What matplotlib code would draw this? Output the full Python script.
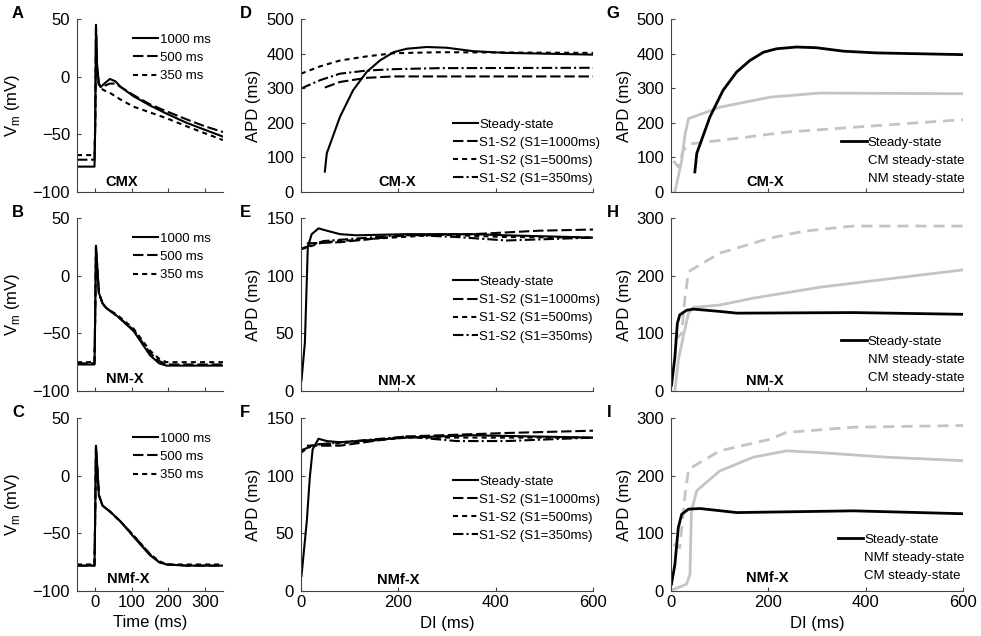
import matplotlib
matplotlib.use('Agg')
import matplotlib.pyplot as plt

plt.rcParams['font.family'] = ['Liberation Sans', 'DejaVu Sans']

# ---------------- data ----------------
# Panel A (CMX) action potentials
tA = [-50, -2, 0, 2, 5, 10, 15, 25, 40, 55, 70, 105, 150, 195, 250, 300, 350]
A_1000 = [-78, -78, -40, 45, 10, -6, -9, -6, -2, -4, -9, -17, -25, -32, -40, -46, -52]
A_500 = [-72, -72, -40, 42, 8, -6, -9, -8, -6, -6, -9, -16, -24, -30, -37, -43, -48]
A_350 = [-68, -68, -40, 40, 5, -8, -10, -12, -14, -17, -20, -26, -31, -36, -43, -49, -55]

# Panel B (NM-X)
tB = [-50, -2, 0, 2, 6, 10, 20, 30, 60, 105, 150, 175, 195, 250, 350]
B_1000 = [-77, -77, -30, 26, 5, -15, -24, -28, -35, -48, -69, -76, -78, -78, -78]
B_500 = [-76, -76, -30, 25, 5, -15, -24, -28, -35, -47, -67, -74, -77, -77, -77]
B_350 = [-75, -75, -30, 25, 5, -15, -24, -28, -34, -46, -65, -72, -75, -75, -75]

# Panel C (NMf-X)
tC = [-50, -2, 0, 2, 6, 10, 20, 40, 70, 105, 150, 175, 195, 250, 350]
C_1000 = [-78, -78, -30, 26, 5, -17, -26, -31, -40, -53, -69, -75, -77, -78, -78]
C_500 = [-78, -78, -30, 25, 5, -17, -26, -31, -40, -52, -68, -75, -77, -78, -78]
C_350 = [-77, -77, -30, 25, 5, -17, -26, -31, -40, -52, -68, -74, -77, -77, -77]

# Panel D (CM-X) restitution
D_ss_di = [49, 53, 80, 107, 135, 162, 190, 217, 258, 299, 354, 422, 600]
D_ss = [59, 112, 217, 294, 347, 380, 404, 414, 419, 417, 407, 402, 397]
D_1000_di = [49, 80, 135, 190, 600]
D_1000 = [302, 318, 330, 334, 334]
D_500_di = [0, 39, 80, 135, 190, 285, 600]
D_500 = [342, 363, 380, 392, 401, 404, 402]
D_350_di = [0, 39, 80, 135, 190, 285, 600]
D_350 = [299, 323, 342, 351, 355, 358, 359]

# Panel E (NM-X)
E_ss_di = [1, 8, 14, 22, 36, 53, 80, 114, 217, 354, 422, 600]
E_ss = [9, 42, 125, 136, 141, 139, 136, 135, 136, 136, 135, 133]
E_1000_di = [12, 80, 217, 354, 490, 600]
E_1000 = [128, 129, 135, 136, 139, 140]
E_500_di = [1, 46, 148, 285, 422, 600]
E_500 = [123, 129, 132, 135.5, 133.5, 133]
E_350_di = [1, 46, 217, 320, 422, 600]
E_350 = [123.5, 130, 135.5, 133.5, 130.5, 133]

# Panel F (NMf-X)
F_ss_di = [1, 12, 18, 24, 36, 53, 80, 217, 354, 600]
F_ss = [13, 61, 98, 123, 132, 130, 129, 133, 135, 133]
F_1000_di = [12, 80, 217, 422, 600]
F_1000 = [126, 126, 134, 137, 139]
F_500_di = [0, 25, 80, 217, 354, 600]
F_500 = [120, 127, 128, 133, 133, 133]
F_350_di = [0, 32, 217, 320, 422, 600]
F_350 = [122, 127, 134, 130, 130, 133]

# Panel G (CM-X vs single-cell steady-states)
G_ss_di = [49, 53, 80, 107, 135, 162, 190, 217, 258, 299, 354, 422, 600]
G_ss = [58, 112, 217, 294, 347, 380, 404, 414, 419, 417, 407, 402, 397]
G_cm_di = [8, 22, 29, 36, 100, 203, 306, 600]
G_cm = [0, 91, 168, 212, 245, 274, 286, 284]
G_nm_di = [5, 15, 25, 39, 100, 237, 374, 600]
G_nm = [90, 72, 120, 139, 149, 173, 187, 209]

# Panel H (NM-X)
H_ss_di = [1, 8, 13, 18, 32, 46, 100, 135, 374, 600]
H_ss = [10, 59, 117, 132, 140, 142, 138, 135, 136, 133]
H_nm_di = [8, 15, 25, 36, 46, 100, 169, 306, 443, 600]
H_nm = [1, 53, 94, 135, 145, 149, 161, 180, 194, 210]
H_cm_di = [8, 22, 29, 36, 100, 203, 272, 374, 600]
H_cm = [88, 100, 164, 207, 239, 265, 277, 286, 286]

# Panel I (NMf-X)
I_ss_di = [1, 8, 15, 22, 36, 60, 135, 374, 600]
I_ss = [12, 46, 110, 133, 142, 143, 136, 139, 134]
I_nmf_di = [5, 15, 32, 39, 42, 53, 100, 169, 237, 306, 443, 600]
I_nmf = [3, 6, 12, 29, 139, 174, 208, 232, 243, 240, 232, 226]
I_cm_di = [5, 18, 29, 36, 100, 203, 237, 374, 600]
I_cm = [81, 75, 168, 211, 243, 263, 275, 284, 287]

ap_labels = ['1000 ms', '500 ms', '350 ms']
rest_labels = ['Steady-state', 'S1-S2 (S1=1000ms)', 'S1-S2 (S1=500ms)', 'S1-S2 (S1=350ms)']

# ---------------- layout ----------------
W, H = 981, 636
fig = plt.figure(figsize=(W / 100, H / 100), dpi=100)

cols = [(77, 146), (301, 292), (671, 292)]
rows = [(19, 173), (218, 173), (418, 173)]


def make_ax(c, r):
    l, w = cols[c]
    t, h = rows[r]
    ax = fig.add_axes([l / W, 1 - (t + h) / H, w / W, h / H])
    for s in ['top', 'right']:
        ax.spines[s].set_visible(False)
    for s in ['left', 'bottom']:
        ax.spines[s].set_color('#444444')
        ax.spines[s].set_linewidth(0.8)
    ax.tick_params(direction='in', length=3, width=0.8, colors='#444444',
                   labelcolor='black', labelsize=12, pad=5)
    ax.tick_params(axis='x', pad=3)
    return ax


K = 'black'
GR = '#c4c4c4'
LW = 1.5
ls_long = (0, (5, 1.8))
ls_short = (0, (2.4, 2.0))
ls_dd = (0, (5, 1.5, 1, 1.5))

FS_LEG = 9.5
LSP = 0.45


def legend(ax, loc, anchor):
    lg = ax.legend(loc=loc, bbox_to_anchor=anchor, frameon=False, fontsize=FS_LEG,
                   handlelength=1.9, handletextpad=0.1, labelspacing=LSP,
                   borderpad=0, borderaxespad=0)
    return lg


# Column 1: action potentials
ap_sets = [(tA, A_1000, A_500, A_350, 'CMX', 73, -91, 'A'),
           (tB, B_1000, B_500, B_350, 'NM-X', 81, -90, 'B'),
           (tC, C_1000, C_500, C_350, 'NMf-X', 90, -90, 'C')]
for r, (t, v1, v2, v3, name, tx, ty, letter) in enumerate(ap_sets):
    ax = make_ax(0, r)
    ax.plot(t, v1, color=K, lw=LW, ls='-', label=ap_labels[0])
    ax.plot(t, v2, color=K, lw=LW, ls=ls_long, label=ap_labels[1])
    ax.plot(t, v3, color=K, lw=LW, ls=ls_short, label=ap_labels[2])
    ax.set_xlim(-50, 350)
    ax.set_ylim(-100, 50)
    ax.set_yticks([-100, -50, 0, 50])
    ax.set_xticks([0, 100, 200, 300])
    if r < 2:
        ax.set_xticklabels([])
    else:
        ax.set_xlabel('Time (ms)', fontsize=12, va='center')
        ax.xaxis.set_label_coords(0.5, -0.18)
    ax.set_ylabel('V$_\\mathregular{m}$ (mV)', fontsize=12, va='center')
    ax.yaxis.set_label_coords(-0.445, 0.5)
    ax.text(tx, ty, name, ha='center', va='center', fontsize=10.5, fontweight='bold')
    legend(ax, 'upper right', (0.915, 0.915))
    ax.text(-0.445, 1.03, letter, transform=ax.transAxes, fontsize=12,
            fontweight='bold', ha='left', va='center')

# Column 2: S1-S2 restitution
rest_sets = [
    (D_ss_di, D_ss, D_1000_di, D_1000, D_500_di, D_500, D_350_di, D_350,
     'CM-X', 197, 29, 500, [0, 100, 200, 300, 400, 500], 'D', 0.04),
    (E_ss_di, E_ss, E_1000_di, E_1000, E_500_di, E_500, E_350_di, E_350,
     'NM-X', 197, 8.7, 150, [0, 50, 100, 150], 'E', 0.28),
    (F_ss_di, F_ss, F_1000_di, F_1000, F_500_di, F_500, F_350_di, F_350,
     'NMf-X', 199, 9.5, 150, [0, 50, 100, 150], 'F', 0.283),
]
for r, (sx, sy, x1, y1, x2, y2, x3, y3, name, tx, ty, ymax, yt, letter, lb) in enumerate(rest_sets):
    ax = make_ax(1, r)
    ax.plot(sx, sy, color=K, lw=LW, ls='-', label=rest_labels[0])
    ax.plot(x1, y1, color=K, lw=LW, ls=ls_long, label=rest_labels[1])
    ax.plot(x2, y2, color=K, lw=LW, ls=ls_short, label=rest_labels[2])
    ax.plot(x3, y3, color=K, lw=LW, ls=ls_dd, label=rest_labels[3])
    ax.set_xlim(0, 600)
    ax.set_ylim(0, ymax)
    ax.set_yticks(yt)
    ax.set_xticks([0, 200, 400, 600])
    if r < 2:
        ax.set_xticklabels([])
    else:
        ax.set_xlabel('DI (ms)', fontsize=12, va='center')
        ax.xaxis.set_label_coords(0.5, -0.19)
    ax.set_ylabel('APD (ms)', fontsize=12, va='center')
    ax.yaxis.set_label_coords(-0.164, 0.5)
    ax.text(tx, ty, name, ha='center', va='center', fontsize=10.5, fontweight='bold')
    legend(ax, 'lower right', (1.025, lb))
    ax.text(-0.21, 1.03, letter, transform=ax.transAxes, fontsize=12,
            fontweight='bold', ha='left', va='center')

# Column 3: comparison with single-cell steady-states
cmp_sets = [
    (G_ss_di, G_ss, G_cm_di, G_cm, G_nm_di, G_nm,
     ['Steady-state', 'CM steady-state', 'NM steady-state'],
     'CM-X', 193, 29, 500, [0, 100, 200, 300, 400, 500], 'G', 0.04),
    (H_ss_di, H_ss, H_nm_di, H_nm, H_cm_di, H_cm,
     ['Steady-state', 'NM steady-state', 'CM steady-state'],
     'NM-X', 193, 17, 300, [0, 100, 200, 300], 'H', 0.04),
    (I_ss_di, I_ss, I_nmf_di, I_nmf, I_cm_di, I_cm,
     ['Steady-state', 'NMf steady-state', 'CM steady-state'],
     'NMf-X', 197, 22.5, 300, [0, 100, 200, 300], 'I', 0.05),
]
for r, (sx, sy, gx, gy, dx, dy, labs, name, tx, ty, ymax, yt, letter, lb) in enumerate(cmp_sets):
    ax = make_ax(2, r)
    ax.plot(gx, gy, color=GR, lw=2.0, ls='-', label=labs[1])
    ax.plot(dx, dy, color=GR, lw=2.0, ls=(0, (4, 2.5)), label=labs[2])
    ax.plot(sx, sy, color=K, lw=2.0, ls='-', label=labs[0])
    ax.set_xlim(0, 600)
    ax.set_ylim(0, ymax)
    ax.set_yticks(yt)
    ax.set_xticks([0, 200, 400, 600])
    if r < 2:
        ax.set_xticklabels([])
    else:
        ax.set_xlabel('DI (ms)', fontsize=12, va='center')
        ax.xaxis.set_label_coords(0.5, -0.19)
    ax.set_ylabel('APD (ms)', fontsize=12, va='center')
    ax.yaxis.set_label_coords(-0.158, 0.5)
    ax.text(tx, ty, name, ha='center', va='center', fontsize=10.5, fontweight='bold')
    hs, ls = ax.get_legend_handles_labels()
    order = [2, 0, 1]
    lg = ax.legend([hs[i] for i in order], [ls[i] for i in order], loc='lower right',
                   bbox_to_anchor=(1.005, lb), frameon=False, fontsize=FS_LEG,
                   handlelength=1.9, handletextpad=0.1, labelspacing=LSP,
                   borderpad=0, borderaxespad=0)
    for h in lg.legend_handles[1:]:
        h.set_visible(False)
    ax.text(-0.22, 1.03, letter, transform=ax.transAxes, fontsize=12,
            fontweight='bold', ha='left', va='center')

fig.savefig('out.png', dpi=100)
